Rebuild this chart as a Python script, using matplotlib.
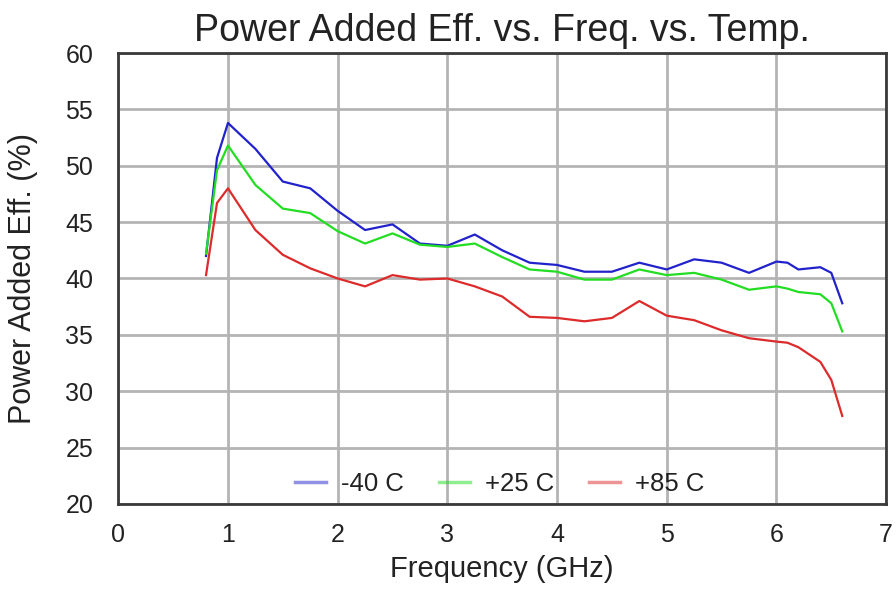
import matplotlib
matplotlib.use("Agg")
from matplotlib import pyplot as plt

plt.rcParams['font.family'] = ['Liberation Sans Narrow', 'Liberation Sans', 'DejaVu Sans']

freq = [0.8, 0.9, 1.0, 1.25, 1.5, 1.75, 2.0, 2.25, 2.5, 2.75, 3.0, 3.25, 3.5, 3.75,
        4.0, 4.25, 4.5, 4.75, 5.0, 5.25, 5.5, 5.75, 6.0, 6.1, 6.2, 6.4, 6.5, 6.6]
pae_m40 = [42.0, 50.7, 53.8, 51.5, 48.6, 48.0, 46.0, 44.3, 44.8, 43.1, 42.9, 43.9, 42.5, 41.4,
           41.2, 40.6, 40.6, 41.4, 40.8, 41.7, 41.4, 40.5, 41.5, 41.4, 40.8, 41.0, 40.5, 37.8]
pae_p25 = [42.2, 49.6, 51.8, 48.3, 46.2, 45.8, 44.2, 43.1, 44.0, 43.0, 42.8, 43.1, 41.9, 40.8,
           40.6, 39.9, 39.9, 40.8, 40.3, 40.5, 39.9, 39.0, 39.3, 39.1, 38.8, 38.6, 37.8, 35.3]
pae_p85 = [40.3, 46.7, 48.0, 44.3, 42.1, 40.9, 40.0, 39.3, 40.3, 39.9, 40.0, 39.3, 38.4, 36.6,
           36.5, 36.2, 36.5, 38.0, 36.7, 36.3, 35.4, 34.7, 34.4, 34.3, 33.9, 32.6, 31.0, 27.8]
labels = ["-40 C", "+25 C", "+85 C"]

fig = plt.figure(figsize=(8.96, 5.9), dpi=100)
ax = fig.add_axes([0.132, 0.146, 0.857, 0.764])

ax.plot(freq, pae_m40, color="#2222cc", lw=1.6, label=labels[0])
ax.plot(freq, pae_p25, color="#22dd22", lw=1.6, label=labels[1])
ax.plot(freq, pae_p85, color="#dd2a2a", lw=1.6, label=labels[2])

ax.set_xlim(0, 7)
ax.set_ylim(20, 60)
ax.set_xticks(range(0, 8))
ax.set_yticks(range(20, 61, 5))
ax.grid(True, color="#b4b4b4", lw=2)
ax.set_axisbelow(True)
for s in ax.spines.values():
    s.set_color("#3a3a3a")
    s.set_linewidth(2)
ax.tick_params(length=0, labelsize=18, labelcolor="#222222")
ax.tick_params(axis="y", pad=18)
ax.tick_params(axis="x", pad=14)

ax.set_title("Power Added Eff. vs. Freq. vs. Temp.", fontsize=27, pad=9, color="#222222")
ax.set_xlabel("Frequency (GHz)", fontsize=21, color="#222222")
ax.set_ylabel("Power Added Eff. (%)", fontsize=22, color="#222222")
ax.xaxis.set_label_coords(0.5, -0.113)
ax.yaxis.set_label_coords(-0.104, 0.5)

leg = ax.legend(loc="center", bbox_to_anchor=(0.497, 0.045), ncol=3, frameon=False,
                fontsize=18.5, handlelength=1.2, handletextpad=0.6, columnspacing=1.35,
                labelcolor="#222222")
for h in leg.get_lines():
    h.set_alpha(0.5)
    h.set_linewidth(2.5)

plt.savefig("out.png", dpi=100)
